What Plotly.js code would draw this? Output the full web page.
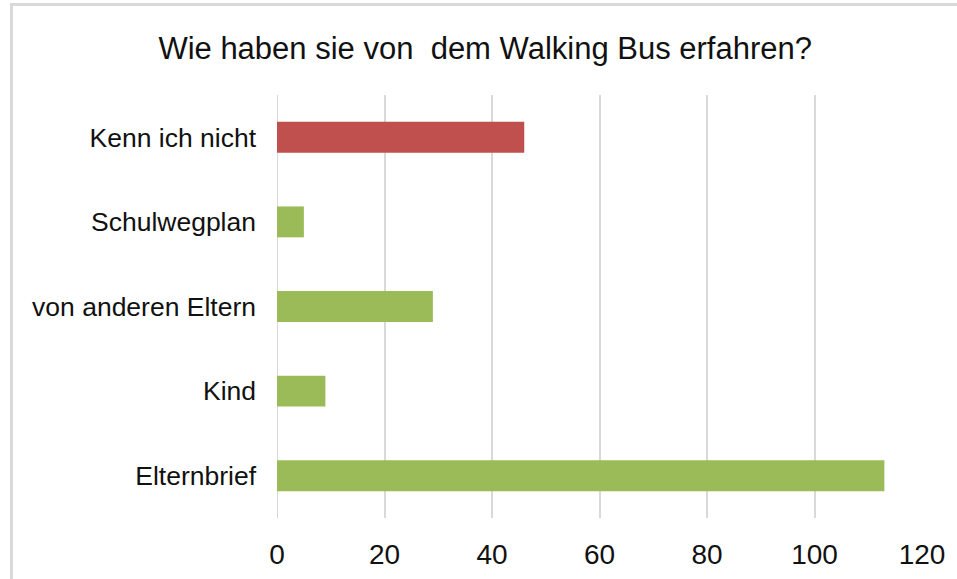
<!DOCTYPE html>
<html>
<head>
<meta charset="utf-8">
<script src="https://cdn.plot.ly/plotly-3.0.1.min.js"></script>
<style>
  html, body { margin: 0; padding: 0; background: #ffffff; }
  #chart { width: 957px; height: 579px; }
</style>
</head>
<body>
<div id="chart"></div>
<script>
// Categories from bottom to top (as drawn on the y axis)
const categories = ["Elternbrief", "Kind", "von anderen Eltern", "Schulwegplan", "Kenn ich nicht"];
const values = [113, 9, 29, 5, 46];
const barColors = ["#9BBB59", "#9BBB59", "#9BBB59", "#9BBB59", "#C0504D"];
const xTicks = [0, 20, 40, 60, 80, 100, 120];
const chartTitle = "Wie haben sie von\u00a0 dem Walking Bus erfahren?";

const trace = {
  type: "bar",
  orientation: "h",
  x: values,
  y: categories,
  marker: { color: barColors, line: { width: 0 } },
  hoverinfo: "x+y"
};

const borderColor = "#d9d9d9";

const layout = {
  width: 957,
  height: 579,
  margin: { l: 277, r: 35, t: 95, b: 61 },
  paper_bgcolor: "#ffffff",
  plot_bgcolor: "#ffffff",
  font: { family: "Arial, 'Liberation Sans', sans-serif", color: "#111111" },
  title: {
    text: chartTitle,
    font: { size: 31, color: "#111111" },
    x: 0.507, xref: "container", xanchor: "center",
    y: 1 - 48 / 579, yref: "container", yanchor: "middle"
  },
  showlegend: false,
  bargap: 0.635,
  xaxis: {
    range: [0, 120],
    tickvals: xTicks,
    ticktext: xTicks.map(String),
    showgrid: true,
    gridcolor: borderColor,
    gridwidth: 2,
    zeroline: false,
    showline: false,
    ticks: "",
    ticklabelstandoff: 17,
    tickfont: { size: 28, color: "#111111" },
    fixedrange: true
  },
  yaxis: {
    type: "category",
    categoryorder: "array",
    categoryarray: categories,
    showgrid: false,
    zeroline: false,
    showline: false,
    ticks: "",
    ticklabelstandoff: 20,
    tickfont: { size: 26.5, color: "#111111" },
    fixedrange: true
  },
  shapes: [
    // zero line (left edge of plot)
    { type: "line", xref: "x", yref: "paper", x0: 0, x1: 0, y0: 0, y1: 1,
      line: { color: borderColor, width: 2 }, layer: "below" },
    // chart-area border (left and top)
    { type: "line", xref: "paper", yref: "paper",
      x0: (11.5 - 277) / 645, x1: (11.5 - 277) / 645,
      y0: (518 - 590) / 423, y1: (518 - 3) / 423,
      line: { color: borderColor, width: 3 } },
    { type: "line", xref: "paper", yref: "paper",
      x0: (10 - 277) / 645, x1: (970 - 277) / 645,
      y0: (518 - 4.5) / 423, y1: (518 - 4.5) / 423,
      line: { color: borderColor, width: 3 } }
  ]
};

Plotly.newPlot("chart", [trace], layout, { displayModeBar: false, staticPlot: true });
</script>
</body>
</html>
